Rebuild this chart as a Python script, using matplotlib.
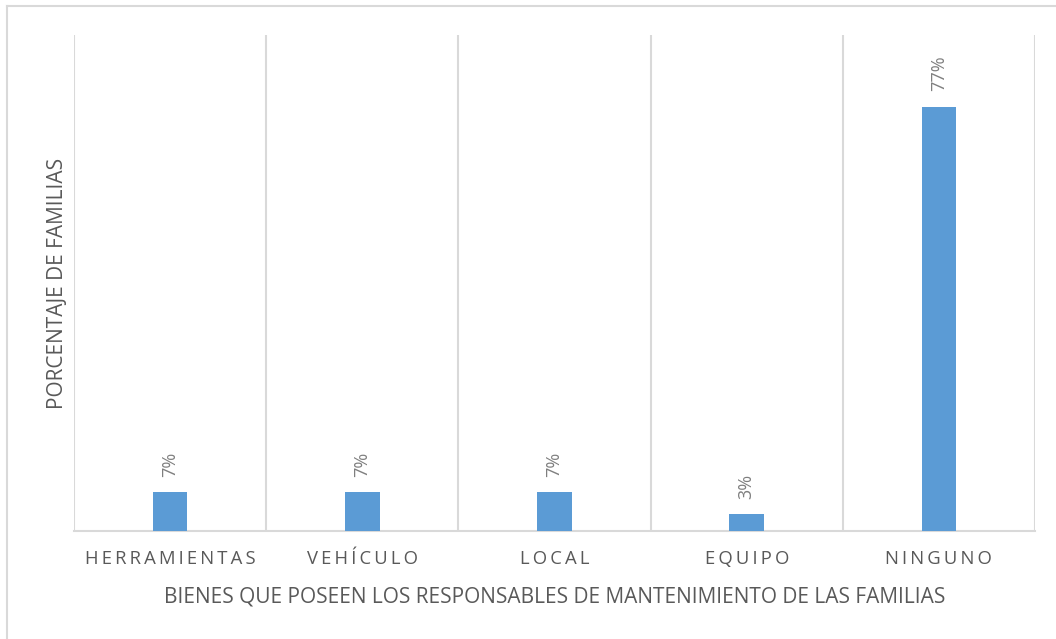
import matplotlib
matplotlib.use("Agg")
import matplotlib.pyplot as plt
from matplotlib.lines import Line2D

categories = ["HERRAMIENTAS", "VEHÍCULO", "LOCAL", "EQUIPO", "NINGUNO"]
values = [7, 7, 7, 3, 77]
value_labels = ["7%", "7%", "7%", "3%", "77%"]
x_title = "BIENES QUE POSEEN LOS RESPONSABLES DE MANTENIMIENTO DE LAS FAMILIAS"
y_title = "PORCENTAJE DE FAMILIAS"

plt.rcParams["font.family"] = ["Open Sans", "DejaVu Sans"]

W, H = 1056, 639
fig = plt.figure(figsize=(W / 100, H / 100), dpi=100)
ax = fig.add_axes([74 / W, 1 - 531 / H, (1035 - 74) / W, (531 - 35) / H])

bar_color = "#5b9bd5"
grid_color = "#d9d9d9"
text_color = "#595959"

pos = list(range(len(categories)))
ax.bar(pos, values, width=0.18, color=bar_color, zorder=3)
ax.set_xlim(-0.5, len(categories) - 0.5)
ax.set_ylim(0, 90)

for b in range(len(categories) + 1):
    ax.axvline(b - 0.5, color=grid_color, lw=1.5, zorder=1)

for p, v, lab in zip(pos, values, value_labels):
    ax.annotate(lab, (p, v), xytext=(0, 11), textcoords="offset points",
                rotation=90, ha="center", va="bottom", fontsize=13,
                color="#7f7f7f")

for s in ["top", "left", "right"]:
    ax.spines[s].set_visible(False)
ax.spines["bottom"].set_color(grid_color)
ax.spines["bottom"].set_linewidth(1.5)
ax.set_yticks([])
ax.set_xticks(pos)
ax.set_xticklabels(["\u2009".join(c) for c in categories], fontsize=13.3,
                   color=text_color)
ax.tick_params(axis="x", length=0, pad=14)

ax.set_xlabel(x_title, fontsize=15, color=text_color, labelpad=13)
ax.set_ylabel(y_title, fontsize=15, color=text_color, labelpad=4)

# outer frame of the chart area
fig.add_artist(Line2D([7 / W, 1.0], [1 - 6 / H, 1 - 6 / H],
                      transform=fig.transFigure, color=grid_color, lw=1.5))
fig.add_artist(Line2D([7 / W, 7 / W], [0, 1 - 6 / H],
                      transform=fig.transFigure, color=grid_color, lw=1.5))

fig.savefig("out.png", dpi=100)
